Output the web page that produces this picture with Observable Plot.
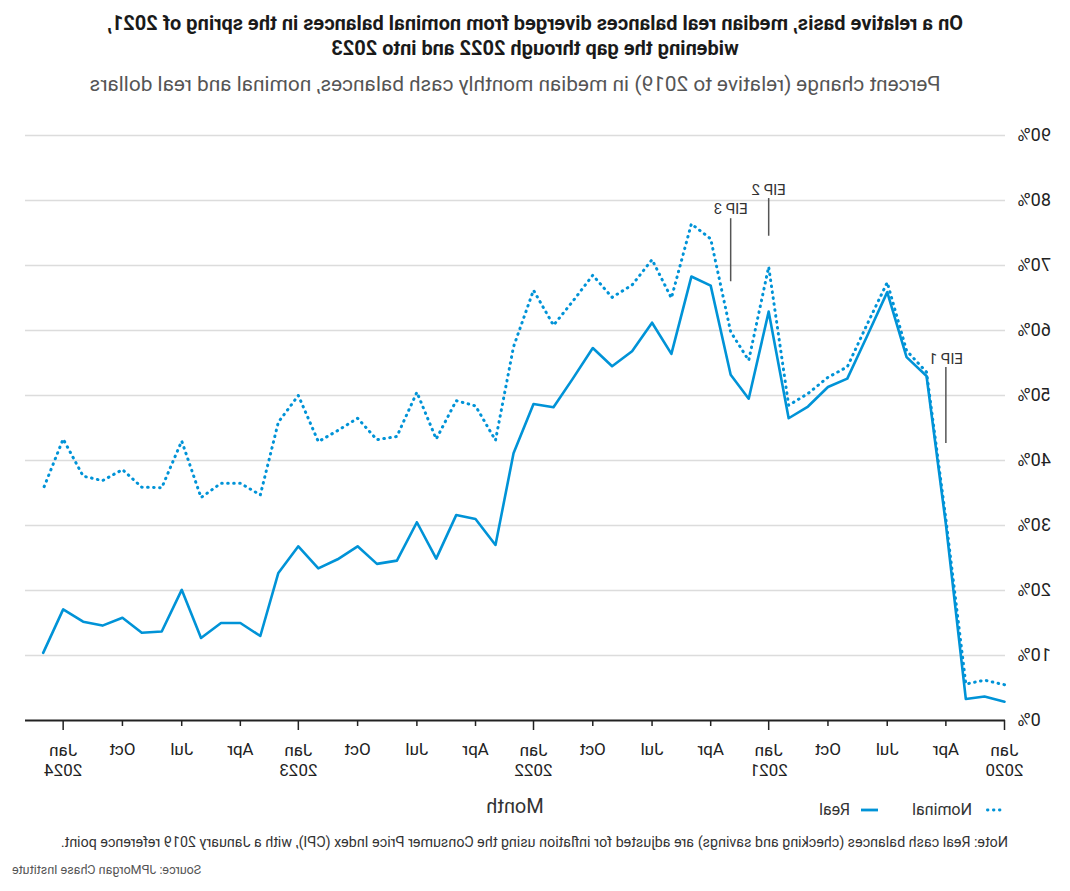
<!DOCTYPE html>
<html><head><meta charset="utf-8">
<script src="https://cdn.jsdelivr.net/npm/d3@7"></script>
<script src="https://cdn.jsdelivr.net/npm/@observablehq/plot@0.6"></script>
<style>
html,body{margin:0;padding:0;background:#fff;}
#page{position:relative;width:1070px;height:891px;transform:scaleX(-1);font-family:Roboto,"Noto Sans",sans-serif;color:#222;overflow:hidden}
#title{position:absolute;top:11px;left:0;width:1070px;text-align:center;font-weight:700;font-size:20px;line-height:25px;color:#1a1a1a}
#subtitle{position:absolute;top:72px;left:65px;width:980px;text-align:center;font-size:20.8px;color:#555}
#chart{position:absolute;top:100px;left:0}
#month{position:absolute;top:794px;left:65px;width:980px;text-align:center;font-size:20px;color:#333}
#legend{position:absolute;top:800px;left:68px;font-size:16px;display:flex;align-items:center;color:#333}
#legend svg{margin-right:10px}
#note{position:absolute;top:834px;left:62px;font-size:14.3px;color:#333}
#source{position:absolute;top:862px;right:12px;font-size:12.5px;color:#555}
</style></head>
<body>
<div id="page">
  <div id="title">On a relative basis, median real balances diverged from nominal balances in the spring of 2021,<br>widening the gap through 2022 and into 2023</div>
  <div id="subtitle">Percent change (relative to 2019) in median monthly cash balances, nominal and real dollars</div>
  <div id="chart"></div>
  <div id="month">Month</div>
  <div id="legend"></div>
  <div id="note">Note: Real cash balances (checking and savings) are adjusted for inflation using the Consumer Price Index (CPI), with a January 2019 reference point.</div>
  <div id="source">Source: JPMorgan Chase Institute</div>
</div>
<script>
const months = [
 "2020-01","2020-02","2020-03","2020-04","2020-05","2020-06","2020-07","2020-08","2020-09","2020-10","2020-11","2020-12",
 "2021-01","2021-02","2021-03","2021-04","2021-05","2021-06","2021-07","2021-08","2021-09","2021-10","2021-11","2021-12",
 "2022-01","2022-02","2022-03","2022-04","2022-05","2022-06","2022-07","2022-08","2022-09","2022-10","2022-11","2022-12",
 "2023-01","2023-02","2023-03","2023-04","2023-05","2023-06","2023-07","2023-08","2023-09","2023-10","2023-11","2023-12",
 "2024-01","2024-02"];
const real = [2.9,3.7,3.3,30.2,53.0,55.9,65.9,59.2,52.6,51.3,48.3,46.5,
 62.9,49.5,53.2,66.9,68.3,56.4,61.2,56.8,54.5,57.3,52.6,48.2,
 48.7,41.1,27.0,31.0,31.6,24.9,30.5,24.6,24.1,26.8,24.8,23.4,
 26.8,22.7,13.0,15.0,15.0,12.7,20.1,13.7,13.5,15.8,14.6,15.2,
 17.1,10.4];
const nominal = [5.5,6.2,5.6,31.0,53.6,56.9,67.4,61.0,54.4,52.8,50.3,48.5,
 69.8,55.4,59.8,74.1,76.4,65.0,70.9,67.0,65.1,68.5,64.5,60.8,
 66.2,57.5,43.1,48.4,49.2,43.3,50.5,43.7,43.2,46.5,44.6,42.9,
 50.0,45.9,34.7,36.5,36.5,34.3,43.0,35.8,35.9,38.6,36.9,37.6,
 43.3,35.6];
const seriesNames = ["Nominal","Real"];
const eipLabels = ["EIP 1","EIP 2","EIP 3"];
const eipMonths = ["2020-04","2021-01","2021-03"];
const eipTop = [54.3,80.3,77.2];
const eipBottom = [42.6,74.5,67.5];
const eipText = [55.8,81.8,78.8];
const yTicks = [0,10,20,30,40,50,60,70,80,90];
const janTicks = ["2020-01","2021-01","2022-01","2023-01","2024-01"];
const otherTicks = ["2020-04","2020-07","2020-10","2021-04","2021-07","2021-10","2022-04","2022-07","2022-10","2023-04","2023-07","2023-10"];
const monthNames = ["Jan","Feb","Mar","Apr","May","Jun","Jul","Aug","Sep","Oct","Nov","Dec"];

const blue = "#0093d7";
const dotted = "0.6,5.4";
const parse = d3.utcParse("%Y-%m");
const realData = months.map((m,i)=>({date:parse(m), value:real[i]}));
const nomData = months.map((m,i)=>({date:parse(m), value:nominal[i]}));
const eipData = eipLabels.map((l,i)=>({label:l, date:parse(eipMonths[i]), top:eipTop[i], bottom:eipBottom[i], ty:eipText[i]}));

const chart = Plot.plot({
  width: 1070, height: 690,
  marginLeft: 65, marginRight: 25, marginTop: 35, marginBottom: 70,
  style: {fontFamily: "Roboto, 'Noto Sans', sans-serif", fontSize: "17px", color: "#222", background: "transparent", overflow: "visible"},
  x: {type: "utc", domain: [parse("2020-01"), parse("2024-03")]},
  y: {domain: [0, 90]},
  marks: [
    Plot.gridY(yTicks.slice(1), {stroke: "#dcdcdc", strokeOpacity: 1, strokeWidth: 1.5}),
    Plot.axisY(yTicks, {tickSize: 0, tickPadding: 13, tickFormat: d => d + "%", fontSize: 18, label: null, fill: "#222"}),
    Plot.axisX(janTicks.map(parse), {tickSize: 10, tickPadding: 12, strokeWidth: 1.5, stroke: "#222",
      tickFormat: d => `Jan\n${d.getUTCFullYear()}`, fontSize: 17, lineHeight: 1.15, label: null, fill: "#222"}),
    Plot.axisX(otherTicks.map(parse), {tickSize: 6, tickPadding: 16, strokeWidth: 1.5, stroke: "#222",
      tickFormat: d => monthNames[d.getUTCMonth()], fontSize: 17, label: null, fill: "#222"}),
    Plot.ruleY([0], {stroke: "#222", strokeWidth: 2}),
    Plot.ruleX(eipData, {x: "date", y1: "bottom", y2: "top", stroke: "#555", strokeWidth: 1.5}),
    Plot.text(eipData, {x: "date", y: "ty", text: "label", fontSize: 15, fill: "#333", lineAnchor: "bottom", dy: 6}),
    Plot.line(nomData, {x: "date", y: "value", stroke: blue, strokeWidth: 3, strokeDasharray: dotted, strokeLinecap: "round"}),
    Plot.line(realData, {x: "date", y: "value", stroke: blue, strokeWidth: 2.6})
  ]
});
document.getElementById("chart").appendChild(chart);

const legend = document.getElementById("legend");
seriesNames.forEach((name, i) => {
  const dash = name === "Nominal" ? dotted : "none";
  const cap = name === "Nominal" ? "round" : "butt";
  const item = document.createElement("span");
  item.style.display = "inline-flex"; item.style.alignItems = "center"; item.style.marginRight = "32px";
  item.innerHTML = `<svg width="20" height="10"><line x1="2" x2="19" y1="5" y2="5" stroke="${blue}" stroke-width="2.8" stroke-linecap="${cap}" stroke-dasharray="${dash}"/></svg><span>${name}</span>`;
  legend.appendChild(item);
});
</script>
</body></html>
